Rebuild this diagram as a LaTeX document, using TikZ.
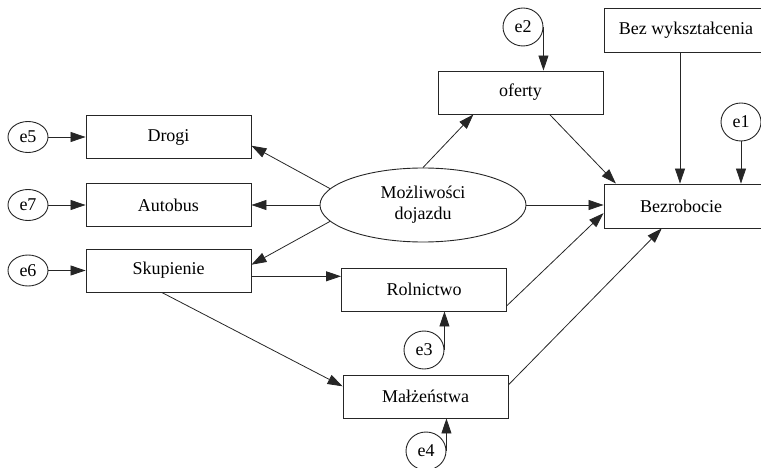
\documentclass[tikz,border=0pt]{standalone}
\usepackage{fontspec}
\setmainfont{Liberation Serif}
\usetikzlibrary{calc,arrows.meta,shapes.geometric}

\begin{document}
\begin{tikzpicture}[x=1pt,y=-1pt,
		zmienna/.style={draw=black!85,line width=0.9pt,minimum width=165pt,minimum height=43pt,inner sep=0pt,font=\fontsize{18}{21}\selectfont},
		blad/.style={draw=black!85,line width=0.9pt,ellipse,minimum width=40pt,minimum height=38pt,inner sep=0pt,font=\fontsize{18}{21}\selectfont},
		bladp/.style={blad,minimum height=31pt},
		sciezka/.style={draw=black!85,line width=0.8pt,-{Triangle[length=15pt,width=10pt]}}]
				\useasboundingbox (0,0) rectangle (761,468);
				
				\node[zmienna] (drogi) at (168.5,137) {Drogi};
				\node[zmienna] (autobus) at (168.5,205) {Autobus};
				\node[zmienna] (skup) at (168.5,270.5) {Skupienie};
				\node[zmienna] (oferty) at (520.5,92.5) {oferty};
				\node[zmienna] (rolnictwo) at (424,289.5) {Rolnictwo};
				\node[zmienna] (malz) at (425.5,396.5) {Małżeństwa};
				\node[zmienna,minimum width=162pt,minimum height=44pt] (bez) at (685,30) {\hspace*{2pt}Bez wykształcenia};
				\node[zmienna,minimum width=162pt,minimum height=44pt] (bezr) at (685,206) {\hspace*{-8pt}Bezrobocie};
				\node[blad,minimum width=206pt,minimum height=74pt,align=center] (mozl) at (423,205) {Możliwości\\dojazdu};
				
				\node[bladp] (e5) at (28,137) {e5};
				\node[bladp] (e7) at (28,205) {e7};
				\node[bladp] (e6) at (28,270.5) {e6};
				\node[blad] (e2) at (523,27) {e2};
				\node[blad] (e1) at (741,122) {e1};
				\node[blad] (e3) at (424,350) {e3};
				\node[blad] (e4) at (426,451) {e4};
				
				% bledy
				\foreach \e/\z in {e5/drogi,e7/autobus,e6/skup}{
					\draw[sciezka] (\e) -- (\z);}
				\draw[sciezka] (e2.east) -- (e2.east |- oferty.north);
				\draw[sciezka] (e1) -- (e1 |- bezr.north);
				\draw[sciezka] (e3.east) -- (e3.east |- rolnictwo.south);
				\draw[sciezka] (e4.east) -- (e4.east |- malz.south);
				
				% sciezki
				\draw[sciezka] (mozl.170) -- (drogi.-6);
				\draw[sciezka] (mozl) -- (autobus);
				\draw[sciezka] (mozl.190) -- (skup.4);
				\draw[sciezka] (mozl.north) -- (oferty.205);
				\draw[sciezka] (mozl.east) -- (mozl.east -| bezr.west);
				\draw[sciezka] (oferty.-37) -- (bezr.162);
				\draw[sciezka] ([xshift=-5pt]bez.south) -- ([xshift=-5pt]bez.south |- bezr.north);
				\draw[sciezka] (rolnictwo.-11) -- (bezr.185);
				\draw[sciezka] (malz.8) -- (bezr.224);
				\draw[sciezka] (skup.-4.5) -- (skup.-4.5 -| rolnictwo.west);
				\draw[sciezka] (skup.253) -- (malz.173);
			\end{tikzpicture}
\end{document}
